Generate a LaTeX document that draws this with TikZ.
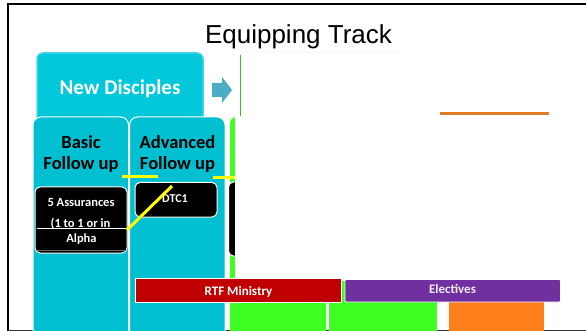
\documentclass[tikz,border=0pt]{standalone}
\usepackage{fontspec}
\setmainfont{Carlito}
\newfontfamily\titlefont{Liberation Sans}
\definecolor{teal1}{HTML}{00BFD0}
\definecolor{teal2}{HTML}{00C8DA}
\definecolor{teal2b}{HTML}{3FD6E6}
\definecolor{arrowc}{HTML}{4BACC6}
\definecolor{green1}{HTML}{3EFF21}
\definecolor{orange1}{HTML}{FF7F1A}
\definecolor{orange2}{HTML}{E07B24}
\definecolor{red1}{HTML}{C00000}
\definecolor{purple1}{HTML}{7030A0}
\definecolor{yellow1}{HTML}{FFFF00}
\tikzset{
  txt/.style={anchor=base, inner sep=0pt, font=\bfseries},
  blackbox/.style={fill=black, draw=white, line width=1pt, rounded corners=5pt},
  yline/.style={draw=yellow1, line width=3pt},
}
\begin{document}
\begin{tikzpicture}[x=1pt,y=-1pt]
\clip (0,0) rectangle (586,331);
\fill[white] (0,0) rectangle (586,331);
% frame
\draw[line width=2pt, black] (7.5,345) -- (7.5,4.5) -- (600,4.5);
\draw[line width=1.5pt, black!80] (7.5,330.5) -- (600,330.5);
% title
\node[anchor=base, inner sep=0pt, font=\titlefont\fontsize{26}{30}\selectfont] (title) at (298.5,44) {Equipping Track};
% New Disciples box
\draw[fill=teal2, draw=teal2b, line width=1.5pt, rounded corners=6pt] (37,53) rectangle (203,130);
\node[txt, text=white, font=\bfseries\fontsize{21}{24}\selectfont] (nd) at (120,95) {New Disciples};
% arrow
\fill[arrowc] (212,83) -- (222,83) -- (222,77) -- (232,90) -- (222,103) -- (222,97) -- (212,97) -- cycle;
% lower teal columns
\draw[fill=teal1, draw=white, line width=1pt, rounded corners=8pt] (33,117) rectangle (128.5,360);
\draw[fill=teal1, draw=white, line width=1pt, rounded corners=8pt] (129.5,117) rectangle (225,360);
\node[txt, font=\bfseries\fontsize{18.5}{22}\selectfont] (basic1) at (81,149) {Basic};
\node[txt, font=\bfseries\fontsize{18.5}{22}\selectfont] (basic2) at (81,170) {Follow up};
\node[txt, font=\bfseries\fontsize{18.5}{22}\selectfont] (adv1) at (177.5,149) {Advanced};
\node[txt, font=\bfseries\fontsize{18.5}{22}\selectfont] (adv2) at (177.5,170) {Follow up};
% green / orange columns
\fill[green1, rounded corners=6pt] (230,117) rectangle (326,360);
\fill[green1] (329,200) rectangle (437,360);
\fill[orange1] (449,200) rectangle (544,360);
\draw[green1!80!black, line width=1.2pt] (240.5,55) -- (240.5,117);
% partially hidden black box
\draw[blackbox] (228.5,182) rectangle (300,256);
% 5 Assurances box
\draw[blackbox] (35,187) rectangle (127,253);
\node[txt, text=white, font=\bfseries\fontsize{12.5}{15}\selectfont] (as1) at (81,207) {5 Assurances};
\node[txt, text=white, font=\bfseries\fontsize{12.5}{15}\selectfont] (as2) at (80.5,227) {(1 to 1 or in};
\fill[black] (36.5,228) rectangle (126,251);
\draw[white, line width=1pt] (36.5,228.5) -- (126.5,228.5);
\draw[black!60, line width=0.8pt] (37,250.5) -- (126,250.5);
\node[txt, text=white, font=\bfseries\fontsize{12.5}{15}\selectfont] (alpha) at (81.5,242) {Alpha};
% DTC1 box
\draw[blackbox] (135,182.5) rectangle (217,217);
\node[txt, text=white, font=\bfseries\fontsize{12}{14}\selectfont] (dtc) at (175,203) {DTC1};
% yellow lines
\coordinate (y1a) at (122,177);
\coordinate (y1b) at (158,177);
\coordinate (y2a) at (213,178);
\coordinate (y2b) at (240,178);
\coordinate (yda) at (127,230);
\coordinate (ydb) at (172,186);
\draw[yline] (y1a) -- (y1b);
\draw[yline] (y2a) -- (y2b);
\draw[yline] (yda) -- (ydb);
% white cover
\fill[white] (241.2,50) rectangle (600,117);
\fill[white] (235,116) rectangle (600,279.5);
\fill[white] (341.5,279.5) rectangle (600,280.5);
\draw[green!6, line width=0.6pt] (240,52) -- (404,52);
% orange line
\draw[orange2, line width=3pt] (440,113.5) -- (549,113.5);
% bars
\draw[fill=red1, draw=white, line width=0.8pt] (135,278) rectangle (341,302);
\node[txt, text=white, font=\bfseries\fontsize{13}{15}\selectfont] (rtf) at (238.5,295) {RTF Ministry};
\draw[fill=purple1, draw=white, line width=0.8pt, rounded corners=1pt] (345,279.5) rectangle (560.5,302);
\node[txt, text=white!92!purple1, font=\bfseries\fontsize{13}{15}\selectfont] (elec) at (452.5,293) {Electives};
\end{tikzpicture}
\end{document}
